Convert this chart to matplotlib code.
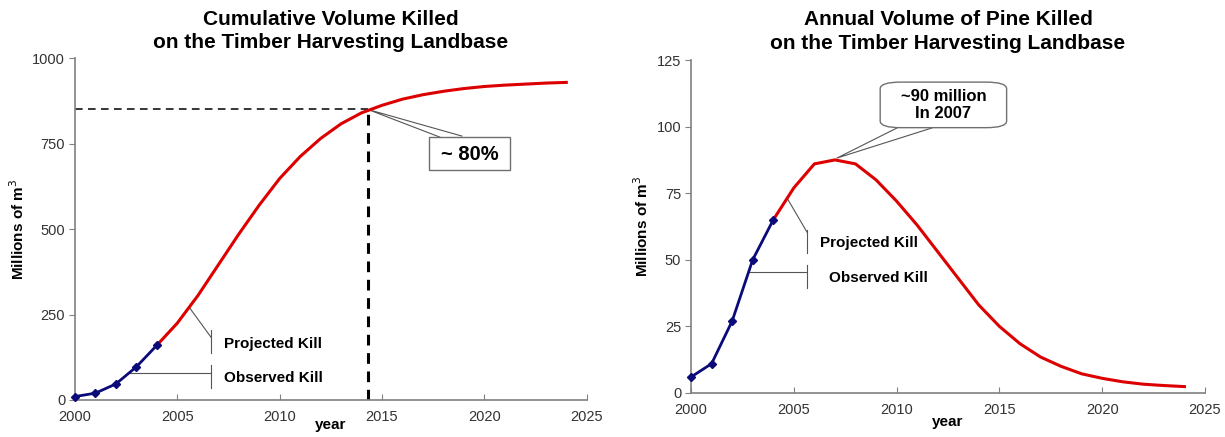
import matplotlib
matplotlib.use("Agg")
from matplotlib import pyplot as plt
from matplotlib.patches import Rectangle, FancyBboxPatch

plt.rcParams['font.family'] = ['Liberation Sans', 'DejaVu Sans']

# cumulative volume killed (millions m3)
obs_years = [2000, 2001, 2002, 2003, 2004]
cum_obs = [10, 20, 47, 97, 160]
proj_years = list(range(2004, 2025))
cum_proj = [160, 225, 305, 395, 485, 570, 648, 712, 765, 808, 840,
            862, 880, 893, 903, 911, 917, 921, 924, 927, 929]

# annual volume of pine killed (millions m3)
ann_obs = [6, 11, 27, 50, 65]
ann_proj = [65, 77, 86, 87.5, 86, 80, 72, 63, 53, 43, 33,
            25, 18.5, 13.5, 10, 7.2, 5.5, 4.2, 3.3, 2.8, 2.4]

pct_year = 2014.3
pct_level = 850

RED = "#dd0000"
NAVY = "#0a0a78"
GRAY = "#808080"
TXT = "#333333"
LINE = "#555555"


def style_axes(ax, yticks):
    ax.set_xlim(2000, 2025)
    ax.set_xticks(range(2000, 2026, 5))
    ax.set_yticks(yticks)
    ax.set_ylim(yticks[0], yticks[-1])
    for s in ["top", "right"]:
        ax.spines[s].set_visible(False)
    for s in ["left", "bottom"]:
        ax.spines[s].set_color(GRAY)
        ax.spines[s].set_linewidth(1.2)
    ax.tick_params(axis="x", direction="in", length=4, color=GRAY,
                   labelsize=10.5, labelcolor=TXT, pad=7)
    ax.tick_params(axis="y", direction="out", length=4, color=GRAY,
                   labelsize=10.5, labelcolor=TXT, pad=3)
    ax.set_ylabel("Millions of m$^3$", fontsize=11, fontweight="bold", labelpad=4)


fig = plt.figure(figsize=(12.25, 4.37), dpi=100)

# ---- left: cumulative ----
ax1 = fig.add_axes([0.0612, 0.0847, 0.4178, 0.7823])
style_axes(ax1, [0, 250, 500, 750, 1000])
ax1.plot(proj_years, cum_proj, color=RED, lw=2.2, zorder=3)
ax1.plot(obs_years, cum_obs, color=NAVY, lw=2, marker="D", ms=4.5, zorder=4, clip_on=False)
ax1.plot([2000, pct_year], [pct_level, pct_level], color="black", lw=1.1, ls=(0, (5, 3.5)))
ax1.plot([pct_year, pct_year], [0, pct_level], color="black", lw=2.2, ls=(0, (3.5, 2.5)))
ax1.set_title("Cumulative Volume Killed\non the Timber Harvesting Landbase",
              fontsize=15, fontweight="bold", pad=7, linespacing=1.3)
ax1.set_xlabel("year", fontsize=11, fontweight="bold", labelpad=-4)

# bracket labels
ax1.plot([2005.57, 2006.64], [272, 184], color=LINE, lw=0.8)
ax1.plot([2006.64, 2006.64], [205, 137], color=LINE, lw=0.8)
ax1.plot([2002.69, 2006.64], [79, 79], color=LINE, lw=0.8)
ax1.plot([2006.64, 2006.64], [102, 35], color=LINE, lw=0.8)
ax1.text(2007.28, 164, "Projected Kill", fontsize=11, fontweight="bold", va="center")
ax1.text(2007.28, 64, "Observed Kill", fontsize=11, fontweight="bold", va="center")

# ~80% callout
ax1.plot([2017.82, pct_year, 2018.9], [769, pct_level, 772], color=LINE, lw=0.8,
         clip_on=False)
ax1.add_patch(Rectangle((2017.29, 672.5), 3.95, 96.5, facecolor="white",
                        edgecolor="#707070", lw=1, zorder=5, clip_on=False))
ax1.text(2019.27, 719, "~ 80%", fontsize=14.5, fontweight="bold",
         ha="center", va="center", zorder=6)

# ---- right: annual ----
ax2 = fig.add_axes([0.5641, 0.1007, 0.4196, 0.7620])
style_axes(ax2, [0, 25, 50, 75, 100, 125])
ax2.plot(proj_years, ann_proj, color=RED, lw=2.2, zorder=3)
ax2.plot(obs_years, ann_obs, color=NAVY, lw=2, marker="D", ms=4.5, zorder=4, clip_on=False)
ax2.set_title("Annual Volume of Pine Killed\non the Timber Harvesting Landbase",
              fontsize=15, fontweight="bold", pad=8, linespacing=1.3)
ax2.set_xlabel("year", fontsize=11, fontweight="bold", labelpad=-1)

ax2.plot([2004.67, 2005.64], [73.2, 60.4], color=LINE, lw=0.8)
ax2.plot([2005.64, 2005.64], [61.2, 52.6], color=LINE, lw=0.8)
ax2.plot([2002.87, 2005.64], [45.4, 45.4], color=LINE, lw=0.8)
ax2.plot([2005.64, 2005.64], [48, 39.4], color=LINE, lw=0.8)
ax2.text(2006.27, 56.3, "Projected Kill", fontsize=11, fontweight="bold", va="center")
ax2.text(2006.71, 43.2, "Observed Kill", fontsize=11, fontweight="bold", va="center")

ax2.plot([2010.02, 2007.1, 2011.72], [99.5, 88.2, 99.5], color=LINE, lw=0.8)
ax2.add_patch(FancyBboxPatch((2009.2, 99.6), 6.15, 17.1,
                             boxstyle="round,pad=0,rounding_size=1.0",
                             mutation_aspect=2.5,
                             facecolor="white", edgecolor="#707070", lw=1, zorder=5))
ax2.text(2012.28, 108.1, "~90 million\nIn 2007", fontsize=12, fontweight="bold",
         ha="center", va="center", linespacing=1.1, zorder=6)

fig.savefig("out.png", dpi=100)
